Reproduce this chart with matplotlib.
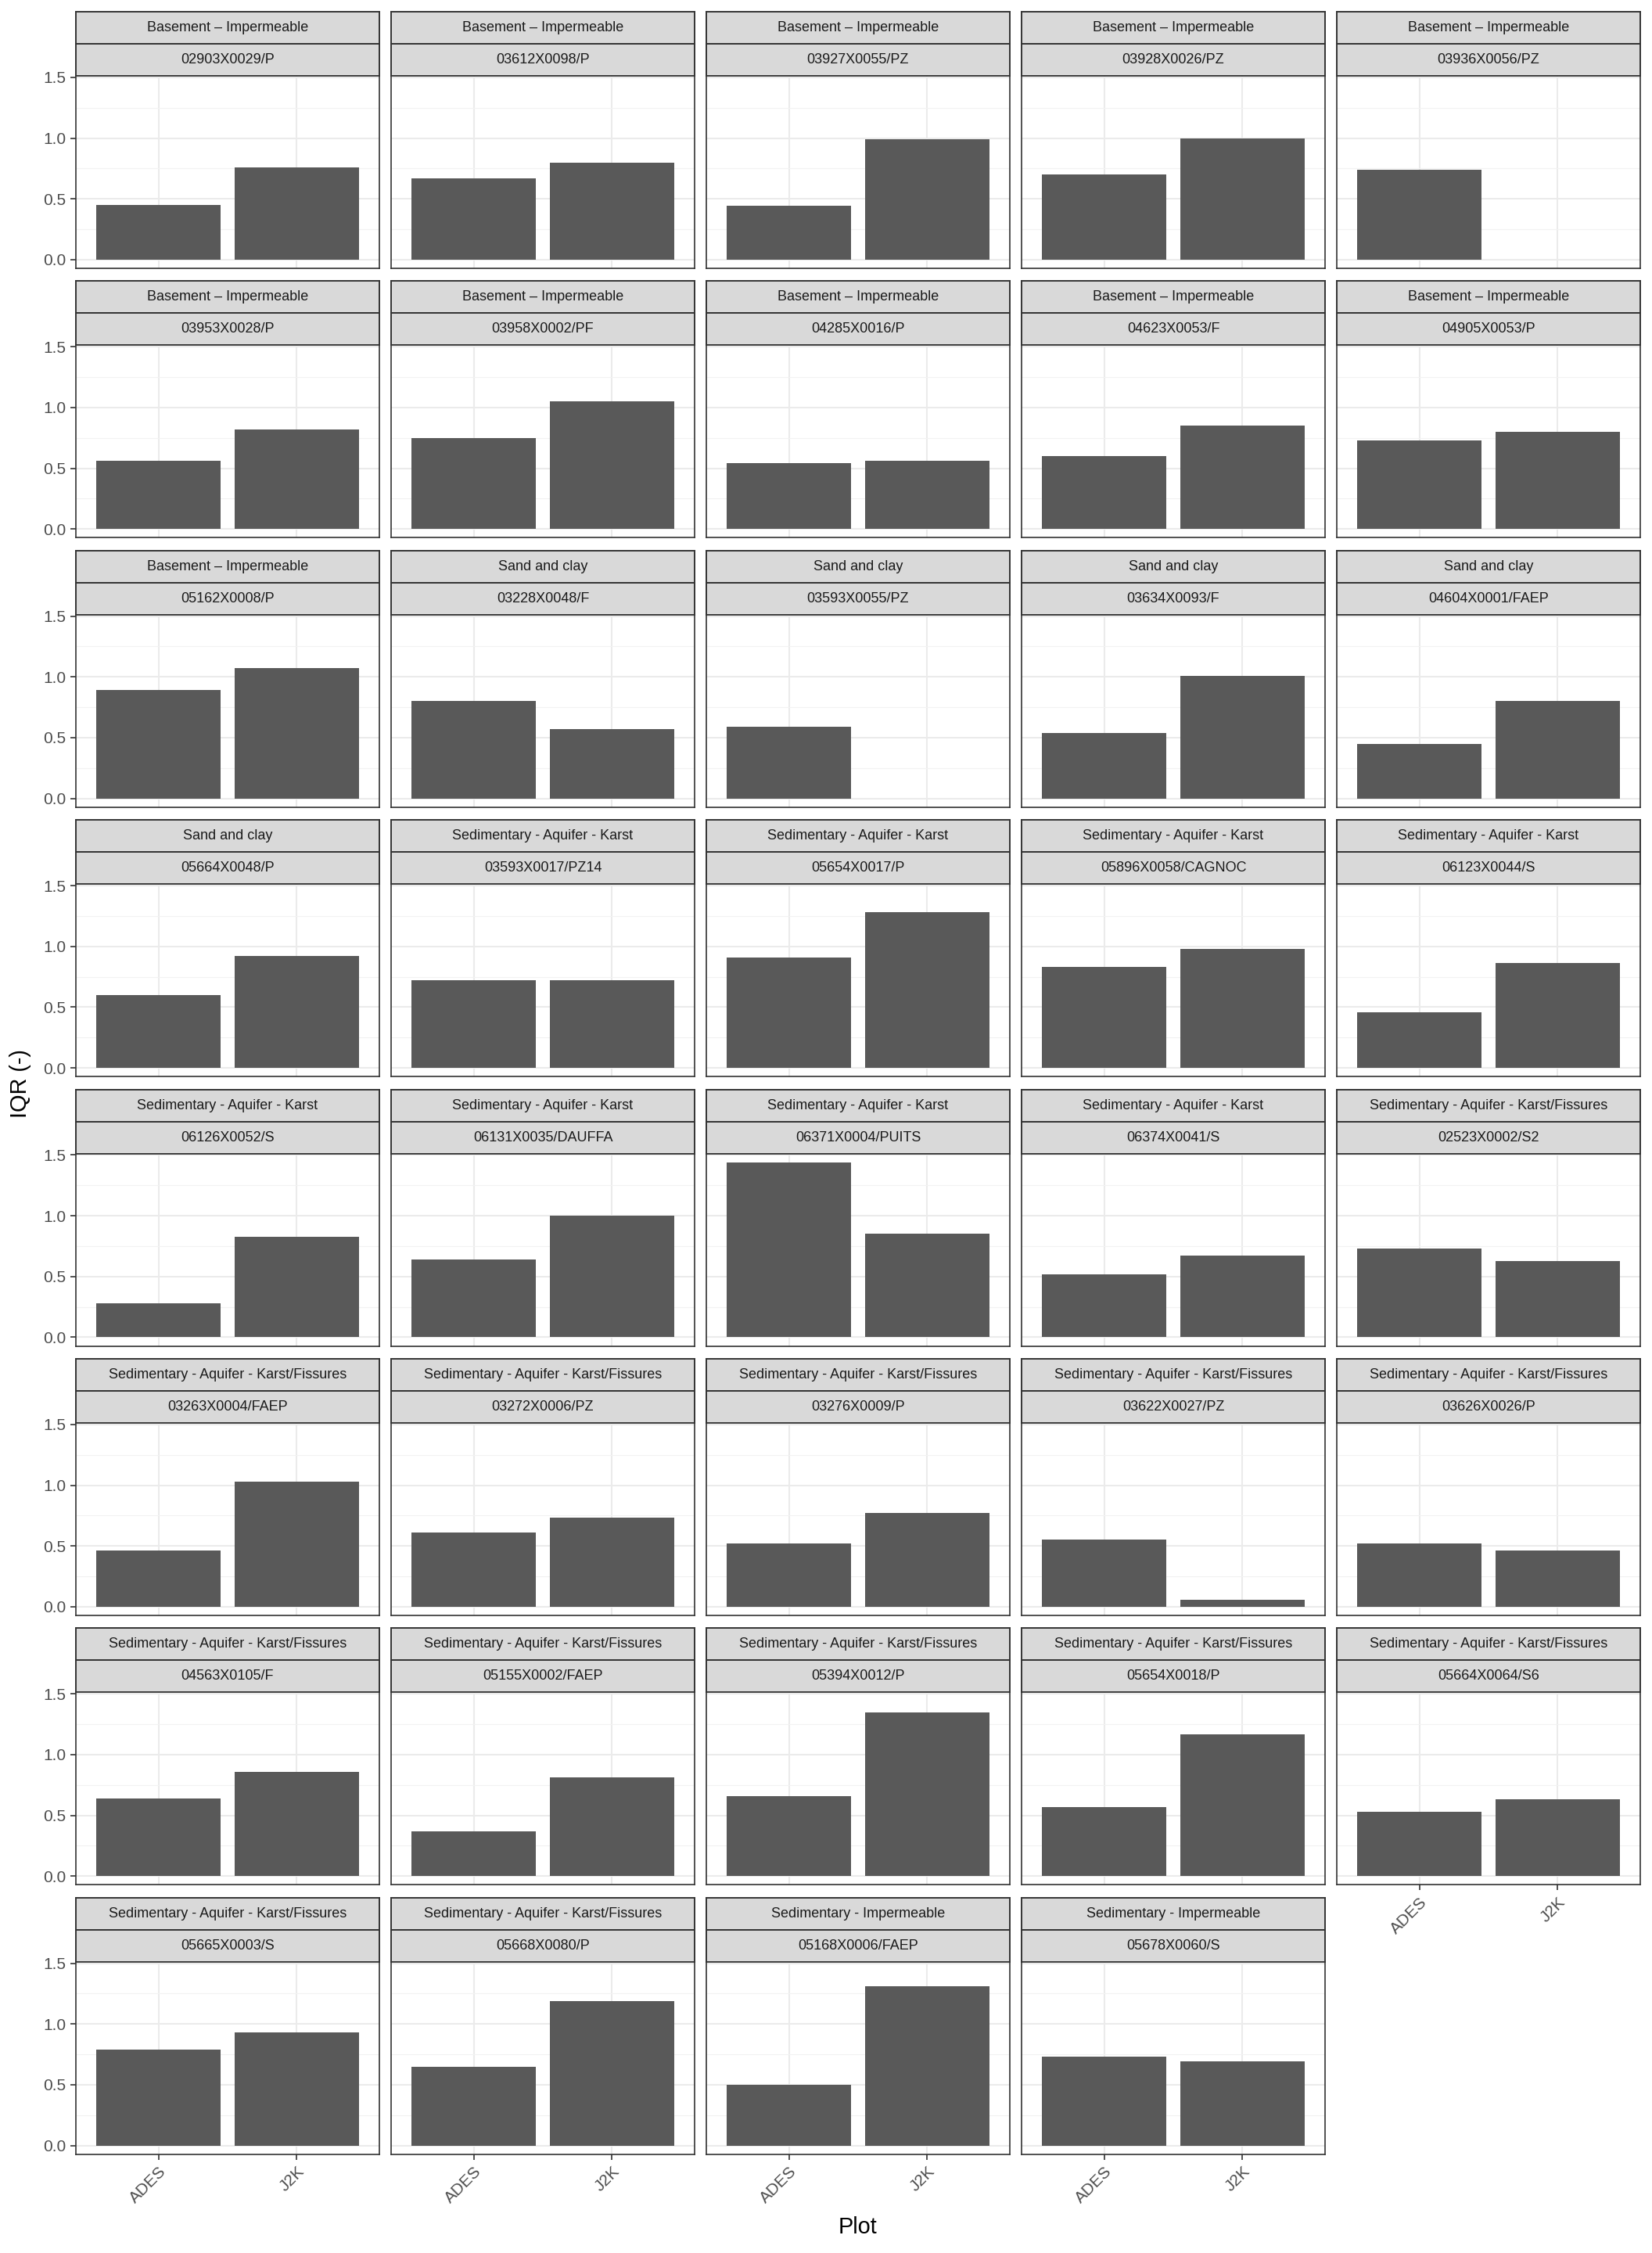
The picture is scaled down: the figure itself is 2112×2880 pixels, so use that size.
import matplotlib
matplotlib.use("Agg")
import matplotlib.pyplot as plt

plt.rcParams['font.family'] = ['Liberation Sans', 'DejaVu Sans']

# facet labels (lithology group / station code)
groups = (["Basement – Impermeable"] * 11
          + ["Sand and clay"] * 5
          + ["Sedimentary - Aquifer - Karst"] * 8
          + ["Sedimentary - Aquifer - Karst/Fissures"] * 13
          + ["Sedimentary - Impermeable"] * 2)
stations = [
    "02903X0029/P", "03612X0098/P", "03927X0055/PZ", "03928X0026/PZ", "03936X0056/PZ",
    "03953X0028/P", "03958X0002/PF", "04285X0016/P", "04623X0053/F", "04905X0053/P",
    "05162X0008/P", "03228X0048/F", "03593X0055/PZ", "03634X0093/F", "04604X0001/FAEP",
    "05664X0048/P", "03593X0017/PZ14", "05654X0017/P", "05896X0058/CAGNOC", "06123X0044/S",
    "06126X0052/S", "06131X0035/DAUFFA", "06371X0004/PUITS", "06374X0041/S", "02523X0002/S2",
    "03263X0004/FAEP", "03272X0006/PZ", "03276X0009/P", "03622X0027/PZ", "03626X0026/P",
    "04563X0105/F", "05155X0002/FAEP", "05394X0012/P", "05654X0018/P", "05664X0064/S6",
    "05665X0003/S", "05668X0080/P", "05168X0006/FAEP", "05678X0060/S",
]
models = ["ADES", "J2K"]
ades = [0.45, 0.67, 0.44, 0.70, 0.74,
        0.56, 0.75, 0.54, 0.60, 0.73,
        0.89, 0.80, 0.59, 0.54, 0.45,
        0.60, 0.72, 0.91, 0.83, 0.46,
        0.28, 0.64, 1.44, 0.52, 0.73,
        0.46, 0.61, 0.52, 0.55, 0.52,
        0.64, 0.37, 0.66, 0.57, 0.53,
        0.79, 0.65, 0.50, 0.73]
j2k = [0.76, 0.80, 0.99, 1.00, None,
       0.82, 1.05, 0.56, 0.85, 0.80,
       1.07, 0.57, None, 1.01, 0.80,
       0.92, 0.72, 1.28, 0.98, 0.86,
       0.83, 1.00, 0.85, 0.67, 0.63,
       1.03, 0.73, 0.77, 0.06, 0.46,
       0.86, 0.81, 1.35, 1.17, 0.63,
       0.93, 1.19, 1.31, 0.69]

W, H = 2112, 2880
DPI = 200
fig = plt.figure(figsize=(W / DPI, H / DPI), dpi=DPI)

ncol = 5
left0, pw, gapx = 97, 388, 15
top0, pitch = 15, 344.4
strip_h, panel_h = 41, 246

BORDER = "#333333"
STRIP = "#D9D9D9"
BAR = "#595959"
GRID = "#EBEBEB"


def box(x, y, w, h):
    # pixel box (top-left origin) -> figure fraction
    return [x / W, 1 - (y + h) / H, w / W, h / H]


vals = [v for v in ades + j2k if v is not None]
ymax = max(vals)
ylo, yhi = -0.05 * ymax, 1.05 * ymax

n = len(stations)
for i in range(n):
    r, c = divmod(i, ncol)
    x = left0 + c * (pw + gapx)
    y = top0 + r * pitch

    # two stacked strips
    for k, label in enumerate([groups[i], stations[i]]):
        sax = fig.add_axes(box(x, y + k * strip_h, pw, strip_h))
        sax.set_facecolor(STRIP)
        sax.set_xticks([])
        sax.set_yticks([])
        for s in sax.spines.values():
            s.set_color(BORDER)
            s.set_linewidth(0.7)
        sax.text(0.5, 0.5, label, ha="center", va="center",
                 fontsize=6.5, color="#1A1A1A", transform=sax.transAxes)

    ax = fig.add_axes(box(x, y + 2 * strip_h, pw, panel_h))
    pos = [0, 1]
    hs = [ades[i], j2k[i]]
    for p, h in zip(pos, hs):
        if h is not None:
            ax.bar(p, h, width=0.9, color=BAR, zorder=2)
    ax.set_xlim(-0.6, 1.6)
    ax.set_ylim(ylo, yhi)
    ax.set_xticks(pos)
    ax.set_yticks([0, 0.5, 1.0, 1.5])
    ax.set_yticks([0.25, 0.75, 1.25], minor=True)
    ax.grid(True, which="major", color=GRID, linewidth=0.75, zorder=0)
    ax.grid(True, which="minor", axis="y", color="#F2F2F2", linewidth=0.4, zorder=0)
    ax.set_axisbelow(True)
    for s in ax.spines.values():
        s.set_color(BORDER)
        s.set_linewidth(0.6)
    ax.tick_params(which="minor", length=0)
    ax.tick_params(which="major", color=BORDER, width=0.6, length=2.5,
                   labelsize=7.5, labelcolor="#4D4D4D", pad=2)

    if c == 0:
        ax.set_yticklabels(["0.0", "0.5", "1.0", "1.5"])
    else:
        ax.tick_params(axis="y", length=0, labelleft=False)

    if i + ncol >= n:
        ax.set_xticklabels(models, rotation=45, ha="right", rotation_mode="anchor")
    else:
        ax.tick_params(axis="x", length=0, labelbottom=False)

fig.text(26 / W, 1 - 1385 / H, "IQR (-)", rotation=90, ha="center", va="center",
         fontsize=10.4, color="black")
fig.text(1097 / W, 1 - 2847 / H, "Plot", ha="center", va="center",
         fontsize=10.4, color="black")

fig.savefig("out.png", dpi=DPI, facecolor="white")
